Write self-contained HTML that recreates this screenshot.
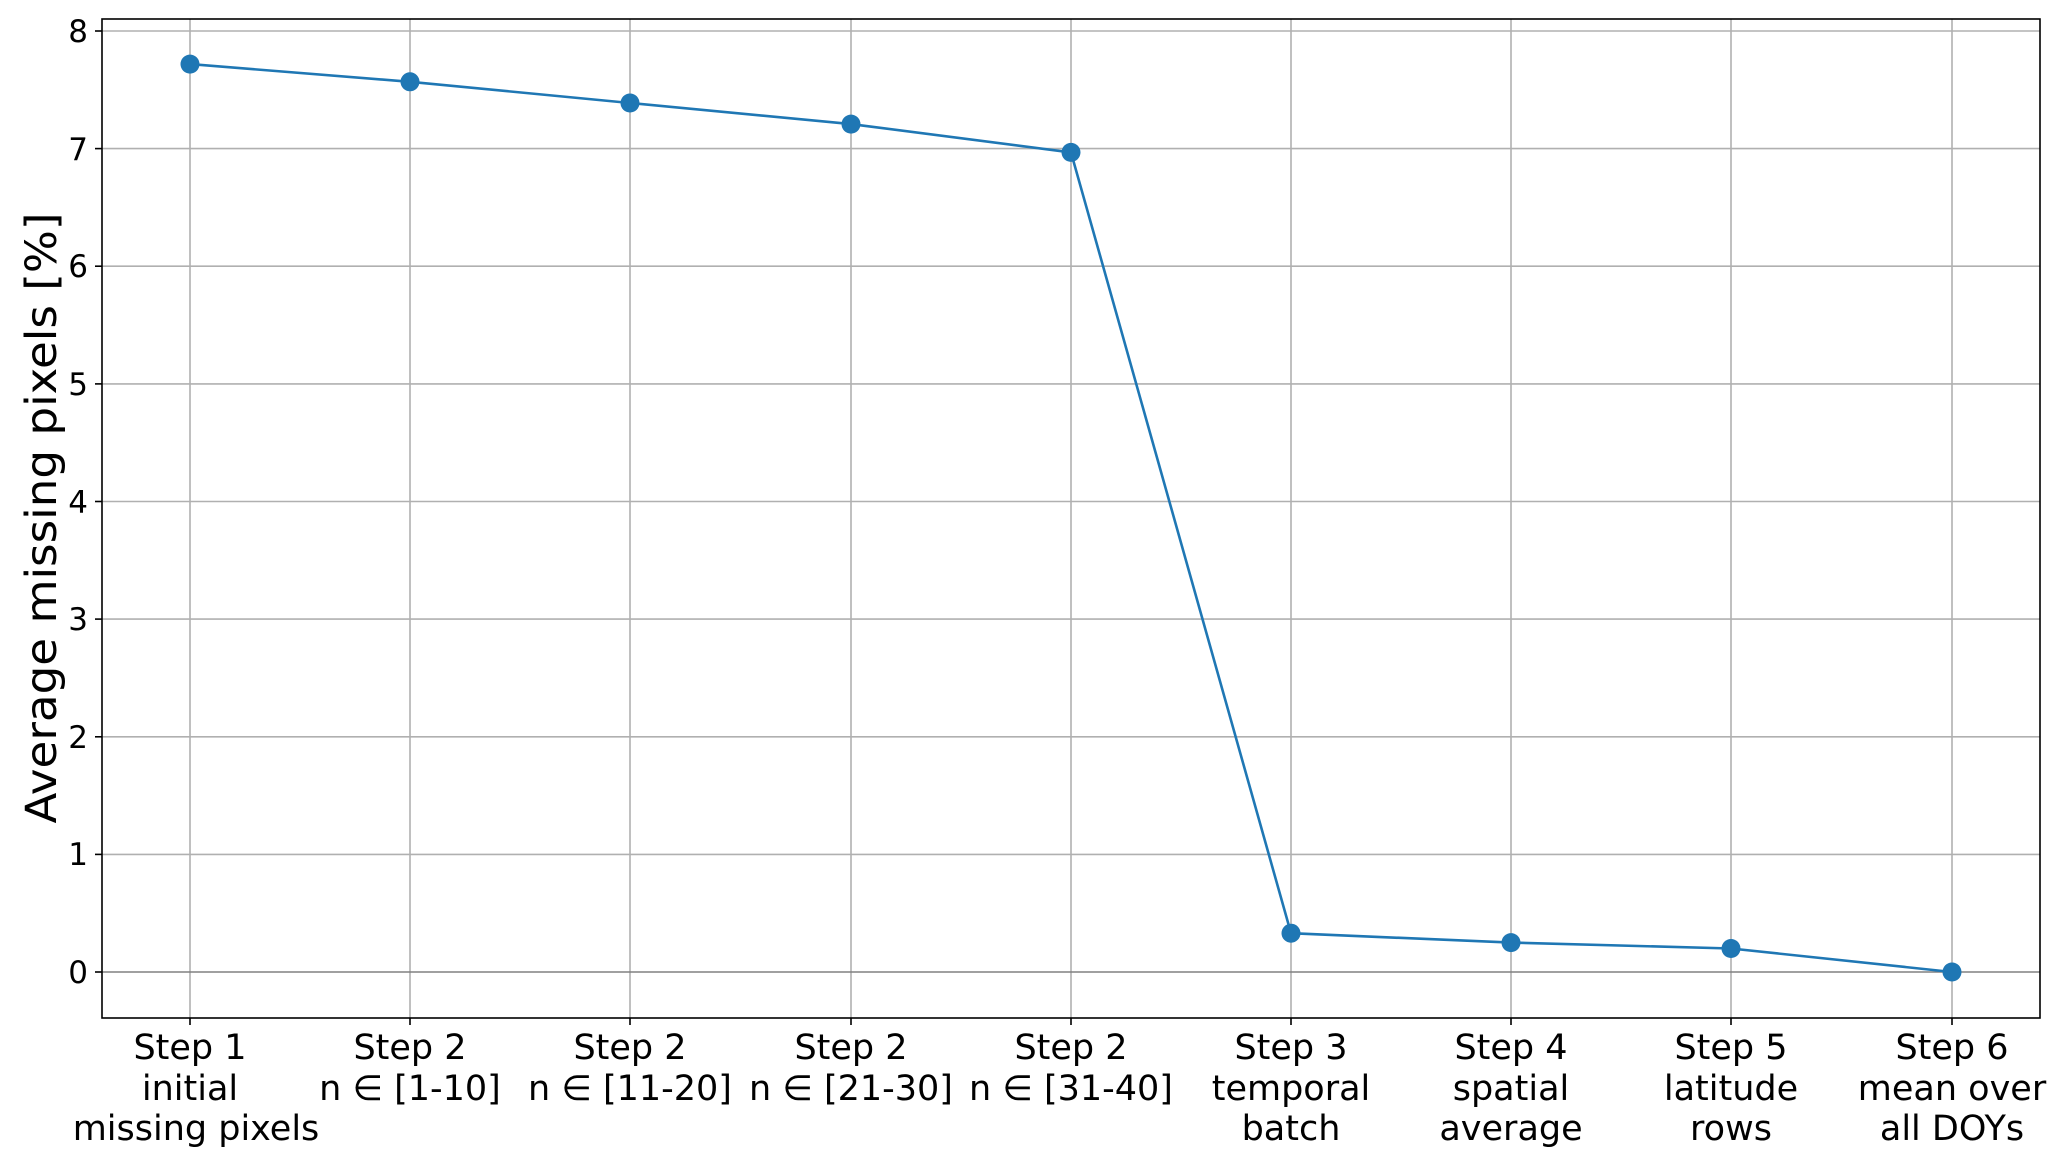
<!DOCTYPE html>
<html><head><meta charset="utf-8"><style>html,body{margin:0;padding:0;background:#fff}</style></head>
<body>
<svg width="2067" height="1166" viewBox="0 0 2067 1166" xmlns="http://www.w3.org/2000/svg" font-family="DejaVu Sans, Liberation Sans, sans-serif">
<rect width="2067" height="1166" fill="#fff"/>
<g stroke="#b0b0b0" stroke-width="1.6">
<line x1="190" y1="19" x2="190" y2="1018"/><line x1="410" y1="19" x2="410" y2="1018"/><line x1="630" y1="19" x2="630" y2="1018"/><line x1="851" y1="19" x2="851" y2="1018"/><line x1="1071" y1="19" x2="1071" y2="1018"/><line x1="1291" y1="19" x2="1291" y2="1018"/><line x1="1511" y1="19" x2="1511" y2="1018"/><line x1="1731" y1="19" x2="1731" y2="1018"/><line x1="1952" y1="19" x2="1952" y2="1018"/>
<line x1="102" y1="31" x2="2040" y2="31"/><line x1="102" y1="148.6" x2="2040" y2="148.6"/><line x1="102" y1="266.2" x2="2040" y2="266.2"/><line x1="102" y1="383.9" x2="2040" y2="383.9"/><line x1="102" y1="501.5" x2="2040" y2="501.5"/><line x1="102" y1="619.1" x2="2040" y2="619.1"/><line x1="102" y1="736.8" x2="2040" y2="736.8"/><line x1="102" y1="854.4" x2="2040" y2="854.4"/>
</g>
<line x1="102" y1="972" x2="2040" y2="972" stroke="#808080" stroke-width="1.6"/>
<rect x="102" y="19" width="1938" height="999" fill="none" stroke="#000" stroke-width="1.6"/>
<g stroke="#000" stroke-width="1.6">
<line x1="95" y1="31" x2="102" y2="31"/><line x1="95" y1="148.6" x2="102" y2="148.6"/><line x1="95" y1="266.2" x2="102" y2="266.2"/><line x1="95" y1="383.9" x2="102" y2="383.9"/><line x1="95" y1="501.5" x2="102" y2="501.5"/><line x1="95" y1="619.1" x2="102" y2="619.1"/><line x1="95" y1="736.8" x2="102" y2="736.8"/><line x1="95" y1="854.4" x2="102" y2="854.4"/><line x1="95" y1="972" x2="102" y2="972"/>
<line x1="190" y1="1018" x2="190" y2="1025"/><line x1="410" y1="1018" x2="410" y2="1025"/><line x1="630" y1="1018" x2="630" y2="1025"/><line x1="851" y1="1018" x2="851" y2="1025"/><line x1="1071" y1="1018" x2="1071" y2="1025"/><line x1="1291" y1="1018" x2="1291" y2="1025"/><line x1="1511" y1="1018" x2="1511" y2="1025"/><line x1="1731" y1="1018" x2="1731" y2="1025"/><line x1="1952" y1="1018" x2="1952" y2="1025"/>
</g>
<g font-size="31" text-anchor="end" fill="#000">
<text x="88" y="42">8</text><text x="88" y="160">7</text><text x="88" y="277">6</text><text x="88" y="395">5</text><text x="88" y="513">4</text><text x="88" y="630">3</text><text x="88" y="748">2</text><text x="88" y="865">1</text><text x="88" y="983">0</text>
</g>
<text transform="translate(56,518) rotate(-90)" font-size="43" text-anchor="middle" textLength="611" lengthAdjust="spacingAndGlyphs">Average missing pixels [%]</text>
<polyline fill="none" stroke="#1f77b4" stroke-width="2.6" points="190,64.1 410,81.8 630,103 851,124.1 1071,152.4 1291,933.2 1511,942.6 1731,948.5 1952,972"/>
<g fill="#1f77b4">
<circle cx="190" cy="64.1" r="9.5"/><circle cx="410" cy="81.8" r="9.5"/><circle cx="630" cy="103" r="9.5"/><circle cx="851" cy="124.1" r="9.5"/><circle cx="1071" cy="152.4" r="9.5"/><circle cx="1291" cy="933.2" r="9.5"/><circle cx="1511" cy="942.6" r="9.5"/><circle cx="1731" cy="948.5" r="9.5"/><circle cx="1952" cy="972" r="9.5"/>
</g>
<g font-size="35" text-anchor="middle" fill="#000">
<text x="190" y="1059">Step 1</text><text x="190" y="1100">initial</text><text x="196" y="1140">missing pixels</text>
<text x="410" y="1059">Step 2</text><text x="410" y="1100">n ∈ [1-10]</text>
<text x="630" y="1059">Step 2</text><text x="630" y="1100">n ∈ [11-20]</text>
<text x="851" y="1059">Step 2</text><text x="851" y="1100">n ∈ [21-30]</text>
<text x="1071" y="1059">Step 2</text><text x="1071" y="1100">n ∈ [31-40]</text>
<text x="1291" y="1059">Step 3</text><text x="1291" y="1100">temporal</text><text x="1291" y="1140">batch</text>
<text x="1511" y="1059">Step 4</text><text x="1511" y="1100">spatial</text><text x="1511" y="1140">average</text>
<text x="1731" y="1059">Step 5</text><text x="1731" y="1100">latitude</text><text x="1731" y="1140">rows</text>
<text x="1952" y="1059">Step 6</text><text x="1952" y="1100">mean over</text><text x="1952" y="1140">all DOYs</text>
</g>
</svg>
</body></html>
